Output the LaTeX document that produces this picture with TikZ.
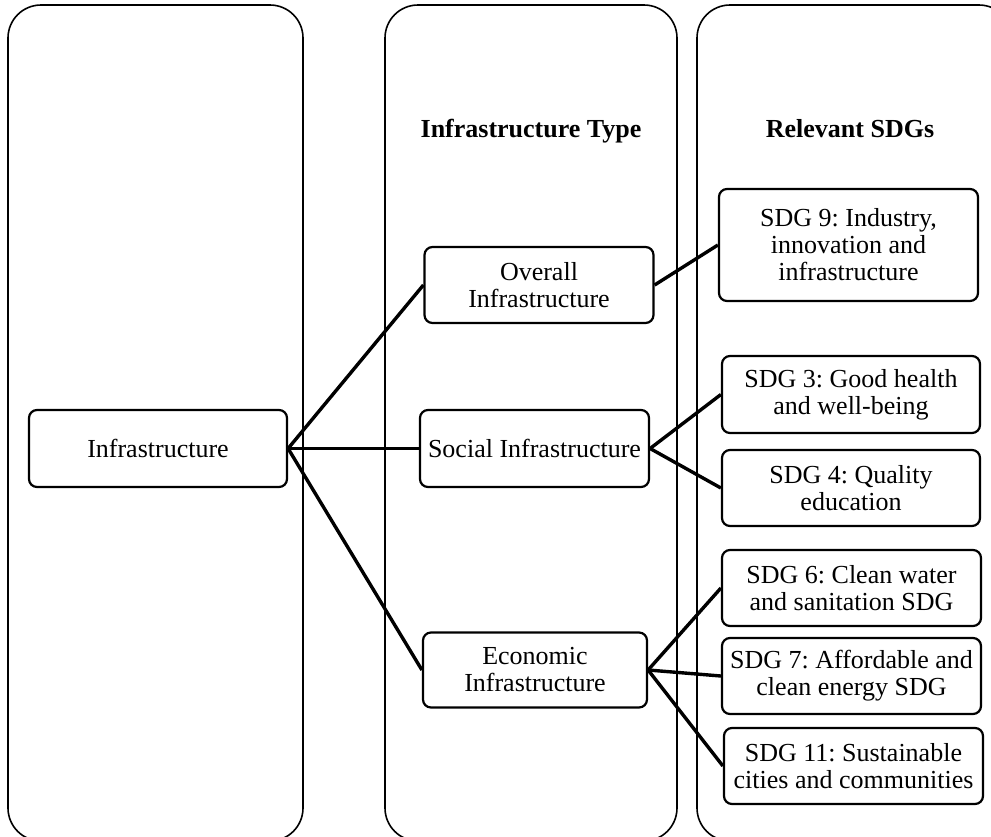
\documentclass[tikz,border=0pt]{standalone}
\usepackage{fontspec}
\setmainfont{Liberation Serif}
\frenchspacing
\begin{document}
\begin{tikzpicture}[x=1pt,y=-1pt,
  panel/.style={draw,line width=1.6pt,rounded corners=33pt},
  box/.style={draw,line width=2.2pt,rounded corners=8pt,align=center,inner sep=0pt,
    fill=white,font=\fontsize{26}{27}\selectfont},
  head/.style={font=\fontsize{26}{27}\selectfont\bfseries,inner sep=0pt,anchor=base},
  link/.style={line width=3.4pt}]
\useasboundingbox (0,0) rectangle (991,836);
\begin{scope}
  \clip (0,0) rectangle (991,836);
  \draw[panel] (8,5) rectangle (303,841);
  \draw[panel] (385,5) rectangle (677,841);
  \draw[panel] (697,5) rectangle (1012,841);
\end{scope}

\node[head] (htype) at (531,137) {Infrastructure Type};
\node[head] (hsdg) at (850,137) {Relevant SDGs};

\node[box,minimum width=258pt,minimum height=77pt] (infra) at (158,448.5) {Infrastructure};
\node[box,minimum width=229pt,minimum height=76pt] (overall) at (539,285) {Overall\\Infrastructure};
\node[box,minimum width=229pt,minimum height=77pt] (social) at (534.5,448.5) {Social Infrastructure};
\node[box,minimum width=224pt,minimum height=75pt] (econ) at (535,670) {Economic\\Infrastructure};

\node[box,minimum width=259pt,minimum height=112pt] (sdg9) at (848.5,245) {SDG 9: Industry,\\innovation and\\infrastructure};
\node[box,minimum width=258pt,minimum height=77pt] (sdg3) at (851,394.5) {SDG 3: Good health\\and well-being};
\node[box,minimum width=258pt,minimum height=76pt] (sdg4) at (851,488) {SDG 4: Quality\\education};
\node[box,minimum width=259pt,minimum height=76pt] (sdg6) at (851.5,588) {SDG 6: Clean water\\and sanitation SDG};
\node[box,minimum width=259pt,minimum height=76pt] (sdg7) at (851.5,676) {SDG 7: Affordable and\\clean energy SDG};
\node[box,minimum width=259pt,minimum height=76pt] (sdg11) at (853.5,766) {SDG 11: Sustainable\\cities and communities};

\draw[link] (infra.east) -- (overall.west);
\draw[link] (infra.east) -- (social.west);
\draw[link] (infra.east) -- (econ.west);
\draw[link] (overall.east) -- (sdg9.west);
\draw[link] (social.east) -- (sdg3.west);
\draw[link] (social.east) -- (sdg4.west);
\draw[link] (econ.east) -- (sdg6.west);
\draw[link] (econ.east) -- (sdg7.west);
\draw[link] (econ.east) -- (sdg11.west);
\end{tikzpicture}
\end{document}
